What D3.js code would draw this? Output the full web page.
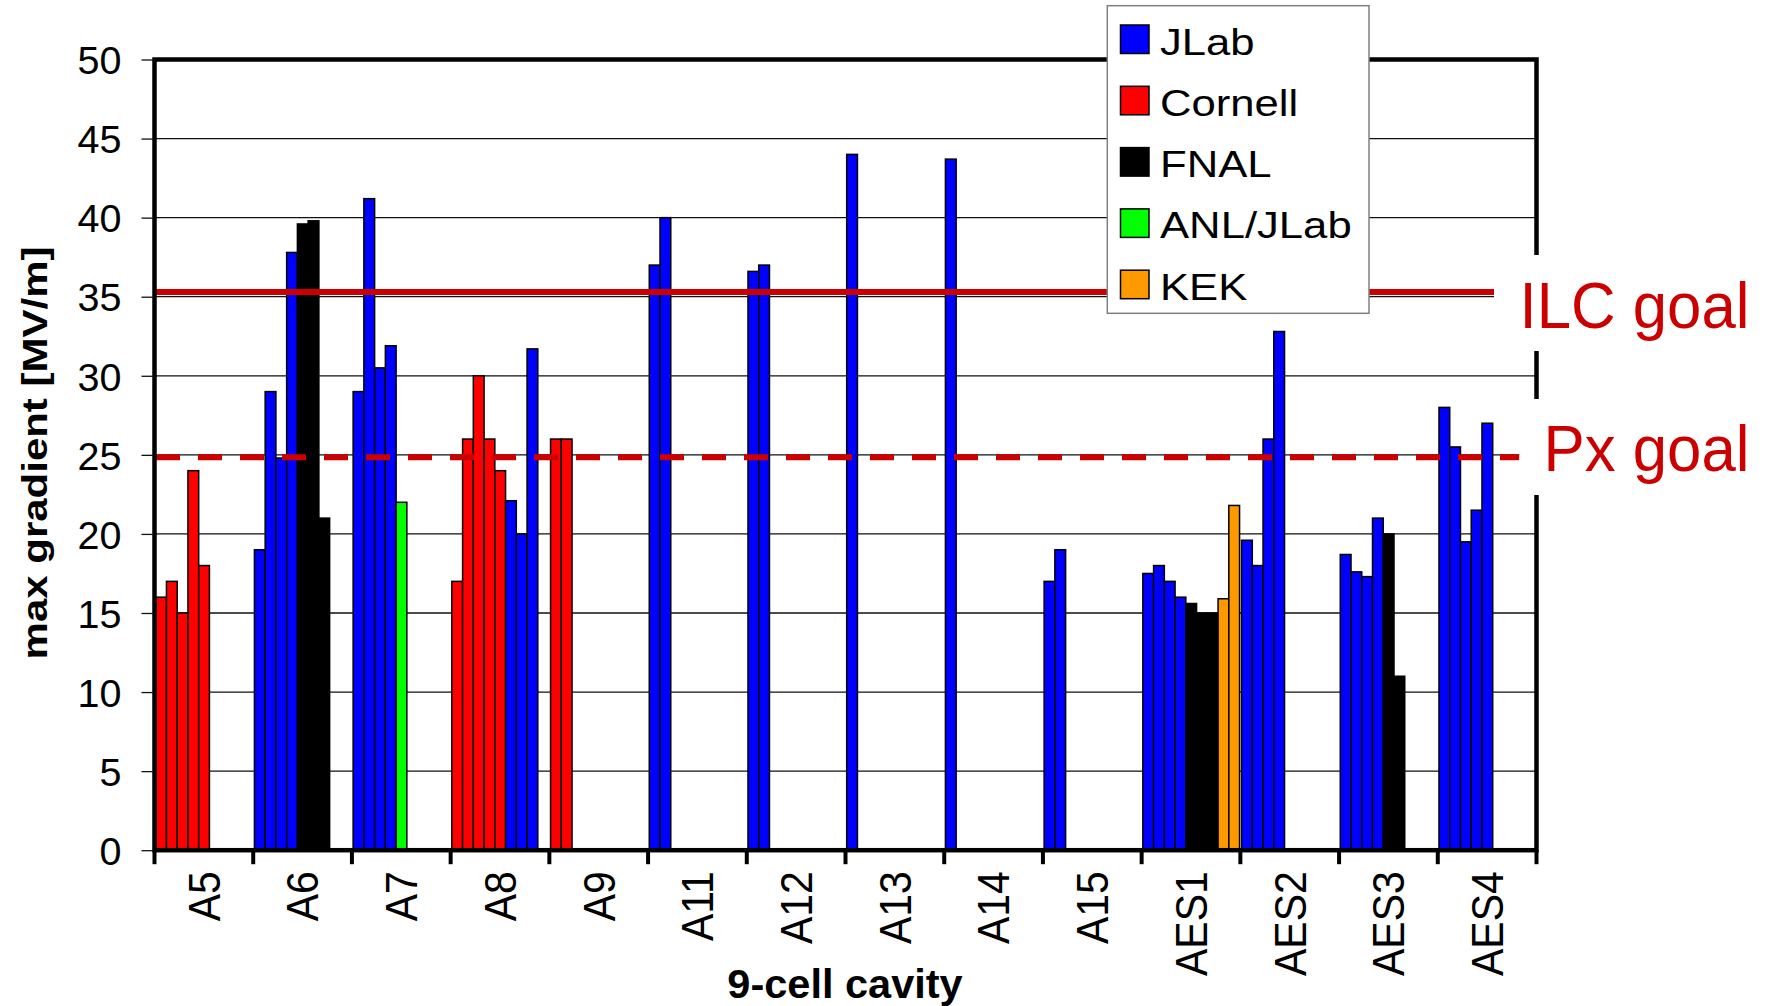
<!DOCTYPE html>
<html>
<head>
<meta charset="utf-8">
<script src="https://cdn.jsdelivr.net/npm/d3@7"></script>
<style>
  html, body { margin: 0; padding: 0; background: #fff; }
  svg { display: block; }
  text { font-family: "Liberation Sans", Arial, sans-serif; }
</style>
</head>
<body>
<svg id="chart" width="1771" height="1006"></svg>
<script>
// 9-cell cavities, in the order they appear along the axis
const cavities = ["A5", "A6", "A7", "A8", "A9", "A11", "A12", "A13", "A14", "A15", "AES1", "AES2", "AES3", "AES4"];

// Labs and their colours
const labs = ["JLab", "Cornell", "FNAL", "ANL/JLab", "KEK"];
const labColors = ["#0000FF", "#FF0000", "#000000", "#00FF00", "#FF9900"];

// Max gradient reached in each test of each cavity [MV/m], in test order
const gradients = [
  [16, 17, 15, 24, 18],
  [19, 29, 24.8, 37.8, 39.6, 39.8, 21],
  [29, 41.2, 30.5, 31.9, 22],
  [17, 26, 30, 26, 24, 22.1, 20, 31.7],
  [26, 26],
  [37, 40],
  [36.6, 37],
  [44],
  [43.7],
  [17, 19],
  [17.5, 18, 17, 16, 15.6, 15, 15, 15.9, 21.8],
  [19.6, 18, 26, 32.8],
  [18.7, 17.6, 17.3, 21, 20, 11],
  [28, 25.5, 19.5, 21.5, 27]
];

// Lab that ran each of those tests
const testLabs = [
  ["Cornell", "Cornell", "Cornell", "Cornell", "Cornell"],
  ["JLab", "JLab", "JLab", "JLab", "FNAL", "FNAL", "FNAL"],
  ["JLab", "JLab", "JLab", "JLab", "ANL/JLab"],
  ["Cornell", "Cornell", "Cornell", "Cornell", "Cornell", "JLab", "JLab", "JLab"],
  ["Cornell", "Cornell"],
  ["JLab", "JLab"],
  ["JLab", "JLab"],
  ["JLab"],
  ["JLab"],
  ["JLab", "JLab"],
  ["JLab", "JLab", "JLab", "JLab", "FNAL", "FNAL", "FNAL", "KEK", "KEK"],
  ["JLab", "JLab", "JLab", "JLab"],
  ["JLab", "JLab", "JLab", "JLab", "FNAL", "FNAL"],
  ["JLab", "JLab", "JLab", "JLab", "JLab"]
];

const yTicks = [0, 5, 10, 15, 20, 25, 30, 35, 40, 45, 50];

// Target gradients
const goalNames = ["ILC goal", "Px goal"];
const goalValues = [35.3, 24.85];

// ---------------------------------------------------------------
const svg = d3.select("#chart");
const plot = { left: 154.5, right: 1536.5, top: 59.5, bottom: 850.2 };
const maxTests = 9;

const x = d3.scaleBand().domain(cavities).range([plot.left, plot.right]).padding(0);
const slot = d3.scaleBand().domain(d3.range(maxTests)).range([1.2, x.bandwidth() - 0.8]).padding(0);
const y = d3.scaleLinear().domain([0, 50]).range([plot.bottom, plot.top]);
const color = d3.scaleOrdinal().domain(labs).range(labColors);

// Horizontal gridlines
svg.append("g")
  .selectAll("line")
  .data(yTicks)
  .join("line")
  .attr("x1", plot.left).attr("x2", plot.right)
  .attr("y1", d => y(d)).attr("y2", d => y(d))
  .attr("stroke", "#111").attr("stroke-width", 1.3);

// Bars: one per test, packed from the left edge of each cavity slot
const bars = [];
cavities.forEach((c, ci) => {
  gradients[ci].forEach((v, ti) => bars.push({ cavity: c, test: ti, value: v, lab: testLabs[ci][ti] }));
});

svg.append("g")
  .selectAll("rect")
  .data(bars)
  .join("rect")
  .attr("x", d => x(d.cavity) + slot(d.test))
  .attr("y", d => y(d.value))
  .attr("width", slot.bandwidth())
  .attr("height", d => y(0) - y(d.value))
  .attr("fill", d => color(d.lab))
  .attr("stroke", "#000")
  .attr("stroke-width", 1.5);

// Goal lines: ILC solid, Px dashed
svg.append("line")
  .attr("x1", plot.left + 1.5).attr("x2", 1494)
  .attr("y1", y(goalValues[0])).attr("y2", y(goalValues[0]))
  .attr("stroke", "#CC0000").attr("stroke-width", 6);

svg.append("line")
  .attr("x1", plot.left + 1.5).attr("x2", 1519.3)
  .attr("y1", y(goalValues[1])).attr("y2", y(goalValues[1]))
  .attr("stroke", "#CC0000").attr("stroke-width", 6)
  .attr("stroke-dasharray", "24,18");

// Plot frame
svg.append("rect")
  .attr("x", plot.left).attr("y", plot.top)
  .attr("width", plot.right - plot.left).attr("height", plot.bottom - plot.top)
  .attr("fill", "none").attr("stroke", "#000").attr("stroke-width", 4.5);

// Y axis: thin ticks and labels
const yAxis = d3.axisLeft(y).tickValues(yTicks).tickSize(13).tickSizeOuter(0).tickPadding(20);
const gy = svg.append("g").attr("transform", `translate(${plot.left},0)`).call(yAxis);
gy.select(".domain").remove();
gy.selectAll(".tick line").attr("stroke", "#111").attr("stroke-width", 1.3);
gy.selectAll(".tick text")
  .attr("font-size", 39.5)
  .attr("font-family", "'Liberation Sans', Arial, sans-serif")
  .attr("fill", "#000")
  .attr("dy", "0.36em");

// X axis: thick boundary ticks between cavities, rotated names at the centres
const boundaries = cavities.map(c => x(c)).concat([plot.right]);
svg.append("g")
  .selectAll("line")
  .data(boundaries)
  .join("line")
  .attr("x1", d => d).attr("x2", d => d)
  .attr("y1", plot.bottom).attr("y2", plot.bottom + 14)
  .attr("stroke", "#000").attr("stroke-width", 4);

const xAxis = d3.axisBottom(x).tickSize(0).tickSizeOuter(0);
const gx = svg.append("g").attr("transform", `translate(0,${plot.bottom})`).call(xAxis);
gx.select(".domain").remove();
gx.selectAll(".tick text")
  .attr("font-size", 41)
  .attr("font-family", "'Liberation Sans', Arial, sans-serif")
  .attr("fill", "#000")
  .attr("transform", "rotate(-90) scale(1,1.07)")
  .attr("text-anchor", "end")
  .attr("x", -21)
  .attr("y", 0)
  .attr("dy", "0.36em");

// Axis titles
svg.append("text")
  .attr("transform", `translate(${(plot.left + plot.right) / 2 - 0.5},998)`)
  .attr("text-anchor", "middle")
  .attr("font-size", 41.5).attr("font-weight", "bold")
  .text("9-cell cavity");

svg.append("text")
  .attr("transform", "translate(47,453) rotate(-90) scale(1.2,1)")
  .attr("text-anchor", "middle")
  .attr("font-size", 35).attr("font-weight", "bold")
  .text("max gradient [MV/m]");

// Legend
const legend = svg.append("g");
legend.append("rect")
  .attr("x", 1107.3).attr("y", 5.7).attr("width", 261.7).attr("height", 307.6)
  .attr("fill", "#fff").attr("stroke", "#808080").attr("stroke-width", 1.5);

const items = legend.selectAll("g.item")
  .data(labs)
  .join("g")
  .attr("class", "item")
  .attr("transform", (d, i) => `translate(0,${i * 61.3})`);

items.append("rect")
  .attr("x", 1120.5).attr("y", 25).attr("width", 28.5).attr("height", 28.5)
  .attr("fill", d => color(d)).attr("stroke", "#000").attr("stroke-width", 1.5);

items.append("text")
  .attr("transform", "translate(1160,54.5) scale(1.18,1)")
  .attr("font-size", 37)
  .attr("fill", "#000")
  .text(d => d);

// Goal labels on white boxes at the right edge
svg.append("rect").attr("x", 1494).attr("y", 255).attr("width", 277).attr("height", 96).attr("fill", "#fff");
svg.append("rect").attr("x", 1519.3).attr("y", 399).attr("width", 252).attr("height", 96).attr("fill", "#fff");

const goalBaselines = [328.3, 471];
svg.append("g")
  .selectAll("text")
  .data(goalNames)
  .join("text")
  .attr("transform", (d, i) => `translate(1749.5,${goalBaselines[i]}) scale(0.95,1)`)
  .attr("text-anchor", "end")
  .attr("font-size", 65)
  .attr("fill", "#CC0000")
  .text(d => d);
</script>
</body>
</html>
